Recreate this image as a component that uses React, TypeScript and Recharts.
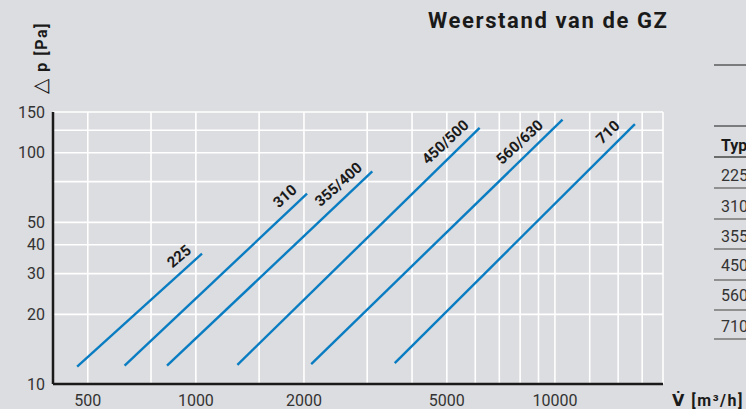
import React from "react";
import { LineChart, Line, XAxis, YAxis, CartesianGrid } from "recharts";

// pressure loss curves per type, log-log (start / end of each line)
const SERIES = ["225", "310", "355/400", "450/500", "560/630", "710"];
const FLOW_START = [467, 633, 831, 1305, 2095, 3580];
const FLOW_END = [1040, 2040, 3100, 6170, 10500, 16700];
const DP_START = [11.9, 12.0, 12.0, 12.1, 12.2, 12.3];
const DP_END = [36.6, 66.5, 83, 128, 139, 133];

const X_TICKS = [500, 1000, 2000, 5000, 10000];
const Y_TICKS = [10, 20, 30, 40, 50, 100, 150];
const X_GRID = [500, 750, 1000, 1500, 2000, 3000, 4000, 5000, 6000, 7000, 8000, 9000, 10000, 12500, 15000, 17500, 20000];
const Y_GRID = [20, 30, 40, 50, 75, 100, 125, 150];

const TABLE_HEAD = "Type";
const TABLE_ROWS = ["225", "310", "355/400", "450/500", "560/630", "710"];

// label placement along each line (px back from the end)
const LABEL_GAP = [6, 5, 5, 6, 18, 12];

const BG = "#dcdde0";
const BLUE = "#0a7dc2";
const INK = "#1a1a1a";
const FONT = "Roboto, 'DejaVu Sans', sans-serif";

const seriesData = SERIES.map((_, i) => [
  { v: FLOW_START[i], p: DP_START[i] },
  { v: FLOW_END[i], p: DP_END[i] },
]);

const labelDot = (i: number) => (props: any) => {
  const { index, points, cx, cy } = props;
  if (!points || index !== points.length - 1) return <g key={`d-${i}-${index}`} />;
  const p0 = points[0];
  const ang = Math.atan2(cy - p0.y, cx - p0.x);
  const ux = Math.cos(ang);
  const uy = Math.sin(ang);
  const gap = LABEL_GAP[i];
  const lift = 8;
  const x = cx - ux * gap + uy * lift;
  const y = cy - uy * gap - ux * lift;
  const deg = (ang * 180) / Math.PI + 1.5;
  return (
    <text
      key={`d-${i}-${index}`}
      x={x}
      y={y}
      transform={`rotate(${deg} ${x} ${y})`}
      textAnchor="end"
      fontFamily={FONT}
      fontWeight={700}
      fontSize={15}
      fill={INK}
    >
      {SERIES[i]}
    </text>
  );
};

const ROW_LINES = [188, 219, 249, 280, 310, 339];
const ROW_TEXT_Y = [181, 212, 242, 271, 301, 332];

export default function App() {
  return (
    <div
      style={{
        position: "fixed",
        left: 0,
        top: 0,
        width: 746,
        height: 409,
        background: BG,
        overflow: "hidden",
      }}
    >
      <LineChart
        width={746}
        height={409}
        margin={{ top: 112, right: 83, bottom: 0, left: 8 }}
      >
        <CartesianGrid
          stroke="#ffffff"
          strokeWidth={1.6}
          verticalValues={X_GRID}
          horizontalValues={Y_GRID}
        />
        <XAxis
          dataKey="v"
          type="number"
          scale="log"
          domain={[400, 20000]}
          ticks={X_TICKS}
          interval={0}
          allowDataOverflow
          height={25}
          tickLine={false}
          tickMargin={5}
          axisLine={{ stroke: INK, strokeWidth: 2.5 }}
          tick={{ fontSize: 16, fill: "#333", fontFamily: FONT }}
        />
        <YAxis
          dataKey="p"
          type="number"
          scale="log"
          domain={[10, 150]}
          ticks={Y_TICKS}
          interval={0}
          allowDataOverflow
          width={45}
          tickLine={false}
          axisLine={{ stroke: INK, strokeWidth: 2.5 }}
          tick={{ fontSize: 16, fill: "#333", fontFamily: FONT }}
        />
        {SERIES.map((name, i) => (
          <Line
            key={name}
            data={seriesData[i]}
            dataKey="p"
            stroke={BLUE}
            strokeWidth={2.4}
            dot={labelDot(i)}
            activeDot={false}
            isAnimationActive={false}
          />
        ))}
      </LineChart>

      <svg
        width={746}
        height={409}
        style={{ position: "absolute", left: 0, top: 0, pointerEvents: "none" }}
      >
        <text x={428} y={28} fontFamily={FONT} fontWeight={700} fontSize={22} letterSpacing={1.6} fill={INK}>
          Weerstand van de GZ
        </text>
        <text
          x={47}
          y={58}
          transform="rotate(-90 47 58)"
          textAnchor="middle"
          fontFamily={FONT}
          fontWeight={700}
          fontSize={16}
          letterSpacing={1.5}
          fill={INK}
        >
          <tspan fontWeight={400} fontSize={20} fontFamily="'DejaVu Sans', sans-serif">△</tspan> p [Pa]
        </text>
        <text x={672} y={406} fontFamily={FONT} fontWeight={700} fontSize={16} letterSpacing={1.5} fill={INK}>
          V̇ [m³/h]
        </text>

        {/* table on the right, cut off by the frame */}
        <line x1={714} x2={746} y1={65} y2={65} stroke={INK} strokeWidth={1} />
        <line x1={714} x2={746} y1={126} y2={126} stroke={INK} strokeWidth={1} />
        <text x={721} y={151} fontFamily={FONT} fontWeight={700} fontSize={16} fill={INK}>
          {TABLE_HEAD}
        </text>
        <line x1={714} x2={746} y1={157} y2={157} stroke="#444" strokeWidth={1.5} />
        {TABLE_ROWS.map((r, i) => (
          <g key={r}>
            <text x={721} y={ROW_TEXT_Y[i]} fontFamily={FONT} fontSize={16} fill="#333">
              {r}
            </text>
            <line x1={714} x2={746} y1={ROW_LINES[i]} y2={ROW_LINES[i]} stroke="#666" strokeWidth={1.3} />
          </g>
        ))}
      </svg>
    </div>
  );
}
